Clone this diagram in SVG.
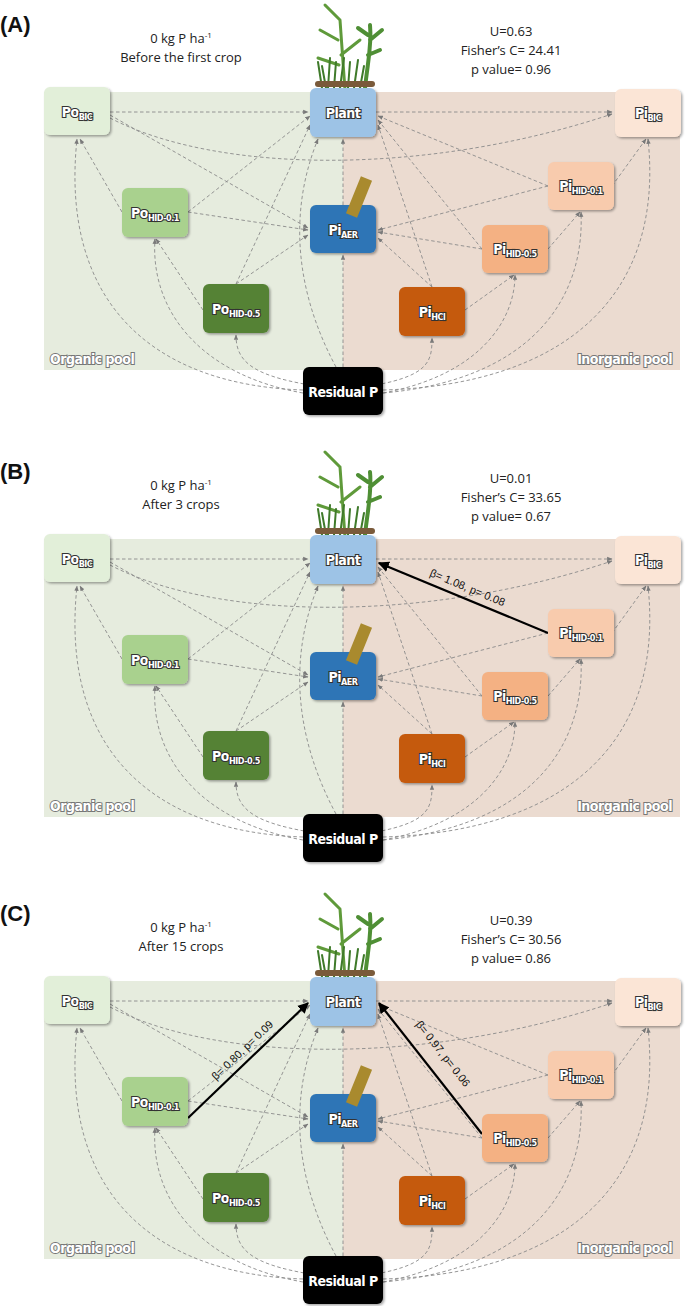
<svg xmlns="http://www.w3.org/2000/svg" xmlns:xlink="http://www.w3.org/1999/xlink" width="685" height="1306" viewBox="0 0 685 1306">
<style>
.t{font-family:"Open Sans","Liberation Sans",sans-serif;font-size:13px;fill:#222;text-anchor:middle}
.pl{font-family:"Liberation Sans",Arial,sans-serif;font-size:22px;font-weight:bold;fill:#111}
.n{font-family:"DejaVu Sans Condensed","Liberation Sans",sans-serif;font-weight:bold;font-size:14px;fill:#fff;stroke:#333;stroke-width:2.2px;paint-order:stroke;text-anchor:middle;letter-spacing:-0.5px}
.s{font-size:9px}
.pool{font-family:"DejaVu Sans Condensed","Liberation Sans",sans-serif;font-weight:bold;font-size:14px;fill:#fff;stroke:#777;stroke-width:2px;paint-order:stroke;letter-spacing:-0.5px}
.e path{fill:none;stroke:#8a8a8a;stroke-width:0.9;stroke-dasharray:3.5 2.5;marker-end:url(#ag)}
.sol{fill:none;stroke:#000;stroke-width:2.2;marker-end:url(#ab)}
.bl{font-family:"Liberation Sans",Arial,sans-serif;font-size:11px;fill:#111;text-anchor:middle}
.box{stroke:none;filter:url(#sh)}
</style>
<defs>
<marker id="ag" viewBox="0 0 10 10" refX="9" refY="5" markerWidth="6" markerHeight="6" orient="auto"><path d="M0,1 L10,5 L0,9 z" fill="#7a7a7a"/></marker>
<marker id="ab" viewBox="0 0 10 10" refX="9" refY="5" markerWidth="5" markerHeight="5" orient="auto"><path d="M0,0 L10,5 L0,10 z" fill="#000"/></marker>
<filter id="sh" x="-10%" y="-10%" width="130%" height="130%"><feDropShadow dx="1.5" dy="1.5" stdDeviation="1.2" flood-opacity="0.35"/></filter>
<g id="bg">
<rect x="44" y="92" width="299" height="278" fill="#e6ecde"/>
<rect x="343" y="92" width="337" height="278" fill="#ebdbd0"/>
<g stroke-linecap="round">
<path d="M345,90 L340,20 M340,20 L325,5 M338,40 L320,30 M341,55 L360,40 M339,65 L318,58" stroke="#5f9a3a" stroke-width="3" fill="none"/>
<path d="M365,88 C368,60 372,45 370,25 M370,40 L382,30 M368,55 L380,50 M368,35 L358,28" stroke="#4f8f35" stroke-width="4" fill="none"/>
<path d="M322,88 L318,62 M328,88 L330,58 M334,88 L336,62 M340,88 L344,58 M348,88 L350,62 M354,88 L358,60 M326,88 L322,66 M360,88 L364,66" stroke="#3f7a2a" stroke-width="2" fill="none"/>
<path d="M318,84 L372,84" stroke="#7a5a3a" stroke-width="6"/>
</g>
</g>
<g id="edges" class="e">
<path d="M303,390 C150,385 60,300 77,139"/>
<path d="M303,393 C200,375 150,310 155,239"/>
<path d="M310,385 C250,375 236,360 236,335"/>
<path d="M343,367 L343,255"/>
<path d="M336,367 C300,300 285,220 318,139"/>
<path d="M376,385 C430,375 432,360 432,338"/>
<path d="M383,393 C480,375 515,320 515,275"/>
<path d="M383,393 C530,380 585,300 581,212"/>
<path d="M383,390 C560,385 665,300 648,139"/>
<path d="M110,112 L308,112"/>
<path d="M110,115 L308,228"/>
<path d="M110,118 C220,175 430,175 612,114"/>
<path d="M122,212 L80,139"/>
<path d="M188,212 L310,116"/>
<path d="M188,212 L308,230"/>
<path d="M203,310 L156,239"/>
<path d="M236,284 L310,125"/>
<path d="M236,284 L308,235"/>
<path d="M376,112 L612,112"/>
<path d="M548,186 L378,116"/>
<path d="M548,186 L378,230"/>
<path d="M612,186 L646,139"/>
<path d="M482,249 L378,232"/>
<path d="M482,249 L378,120"/>
<path d="M548,249 L580,212"/>
<path d="M432,287 L378,125"/>
<path d="M432,287 L378,238"/>
<path d="M465,310 L514,275"/>
<path d="M343,205 L343,139"/>
</g>
<g id="ptree">
<rect x="316" y="211" width="0" height="0"/>
</g>
</defs>

<!-- Panel A -->
<g id="panelA">
<use xlink:href="#bg"/>
<text x="0" y="32" class="pl">(A)</text>
<text class="t" x="181" y="43">0 kg P ha<tspan dy="-5" font-size="8">-1</tspan></text>
<text class="t" x="181" y="62">Before the first crop</text>
<text class="t" x="511" y="36">U=0.63</text>
<text class="t" x="511" y="55">Fisher’s C= 24.41</text>
<text class="t" x="511" y="74">p value= 0.96</text>
<g id="connA"><use xlink:href="#edges"/></g>
<g id="A_PoBIC"><rect class="box" x="44" y="87" width="66" height="48" rx="6" fill="#e2efd9"/><text class="n" x="77" y="117">Po<tspan class="s" dy="3">BIC</tspan></text></g>
<g id="A_Plant"><rect class="box" x="310" y="88" width="66" height="49" rx="6" fill="#9dc3e6"/><text class="n" x="343" y="118">Plant</text></g>
<g id="A_PiBIC"><rect class="box" x="615" y="89" width="66" height="48" rx="6" fill="#fbe5d6"/><text class="n" x="648" y="118">Pi<tspan class="s" dy="3">BIC</tspan></text></g>
<g id="A_PoH01"><rect class="box" x="122" y="188" width="66" height="49" rx="6" fill="#a9d18e"/><text class="n" x="155" y="218">Po<tspan class="s" dy="3">HID-0.1</tspan></text></g>
<g id="A_PiAER"><rect class="box" x="310" y="205" width="66" height="48" rx="6" fill="#2e75b6"/><rect x="353" y="177" width="12" height="40" fill="#a98a2e" transform="rotate(22 359 197)"/><text class="n" x="343" y="235">Pi<tspan class="s" dy="3">AER</tspan></text></g>
<g id="A_PiH01"><rect class="box" x="548" y="162" width="66" height="48" rx="6" fill="#f8cbad"/><text class="n" x="581" y="191">Pi<tspan class="s" dy="3">HID-0.1</tspan></text></g>
<g id="A_PiH05"><rect class="box" x="482" y="225" width="66" height="48" rx="6" fill="#f4b183"/><text class="n" x="515" y="254">Pi<tspan class="s" dy="3">HID-0.5</tspan></text></g>
<g id="A_PoH05"><rect class="box" x="203" y="284" width="66" height="49" rx="6" fill="#548235"/><text class="n" x="236" y="314">Po<tspan class="s" dy="3">HID-0.5</tspan></text></g>
<g id="A_PiHCl"><rect class="box" x="399" y="287" width="66" height="49" rx="6" fill="#c55a11"/><text class="n" x="432" y="317">Pi<tspan class="s" dy="3">HCl</tspan></text></g>
<text class="pool" x="50" y="364">Organic pool</text>
<text class="pool" x="672" y="364" text-anchor="end">Inorganic pool</text>
<g id="A_Res"><rect class="box" x="303" y="367" width="80" height="48" rx="6" fill="#000"/><text class="n" x="343" y="397" style="stroke:none">Residual P</text></g>
</g>

<!-- Panel B -->
<g id="panelB" transform="translate(0,447)">
<use xlink:href="#bg"/>
<text x="0" y="32" class="pl">(B)</text>
<text class="t" x="181" y="43">0 kg P ha<tspan dy="-5" font-size="8">-1</tspan></text>
<text class="t" x="181" y="62">After 3 crops</text>
<text class="t" x="511" y="36">U=0.01</text>
<text class="t" x="511" y="55">Fisher’s C= 33.65</text>
<text class="t" x="511" y="74">p value= 0.67</text>
<g id="connB"><use xlink:href="#edges"/>
<path class="sol" d="M548,186 L379,116"/>
<text class="bl" transform="translate(466,144) rotate(22.5)">β= 1.08, p= 0.08</text></g>
<g id="B_PoBIC"><rect class="box" x="44" y="87" width="66" height="48" rx="6" fill="#e2efd9"/><text class="n" x="77" y="117">Po<tspan class="s" dy="3">BIC</tspan></text></g>
<g id="B_Plant"><rect class="box" x="310" y="88" width="66" height="49" rx="6" fill="#9dc3e6"/><text class="n" x="343" y="118">Plant</text></g>
<g id="B_PiBIC"><rect class="box" x="615" y="89" width="66" height="48" rx="6" fill="#fbe5d6"/><text class="n" x="648" y="118">Pi<tspan class="s" dy="3">BIC</tspan></text></g>
<g id="B_PoH01"><rect class="box" x="122" y="188" width="66" height="49" rx="6" fill="#a9d18e"/><text class="n" x="155" y="218">Po<tspan class="s" dy="3">HID-0.1</tspan></text></g>
<g id="B_PiAER"><rect class="box" x="310" y="205" width="66" height="48" rx="6" fill="#2e75b6"/><rect x="353" y="177" width="12" height="40" fill="#a98a2e" transform="rotate(22 359 197)"/><text class="n" x="343" y="235">Pi<tspan class="s" dy="3">AER</tspan></text></g>
<g id="B_PiH01"><rect class="box" x="548" y="162" width="66" height="48" rx="6" fill="#f8cbad"/><text class="n" x="581" y="191">Pi<tspan class="s" dy="3">HID-0.1</tspan></text></g>
<g id="B_PiH05"><rect class="box" x="482" y="225" width="66" height="48" rx="6" fill="#f4b183"/><text class="n" x="515" y="254">Pi<tspan class="s" dy="3">HID-0.5</tspan></text></g>
<g id="B_PoH05"><rect class="box" x="203" y="284" width="66" height="49" rx="6" fill="#548235"/><text class="n" x="236" y="314">Po<tspan class="s" dy="3">HID-0.5</tspan></text></g>
<g id="B_PiHCl"><rect class="box" x="399" y="287" width="66" height="49" rx="6" fill="#c55a11"/><text class="n" x="432" y="317">Pi<tspan class="s" dy="3">HCl</tspan></text></g>
<text class="pool" x="50" y="364">Organic pool</text>
<text class="pool" x="672" y="364" text-anchor="end">Inorganic pool</text>
<g id="B_Res"><rect class="box" x="303" y="367" width="80" height="48" rx="6" fill="#000"/><text class="n" x="343" y="397" style="stroke:none">Residual P</text></g>
</g>

<!-- Panel C -->
<g id="panelC" transform="translate(0,889)">
<use xlink:href="#bg"/>
<text x="0" y="32" class="pl">(C)</text>
<text class="t" x="181" y="43">0 kg P ha<tspan dy="-5" font-size="8">-1</tspan></text>
<text class="t" x="181" y="62">After 15 crops</text>
<text class="t" x="511" y="36">U=0.39</text>
<text class="t" x="511" y="55">Fisher’s C= 30.56</text>
<text class="t" x="511" y="74">p value= 0.86</text>
<g id="connC"><use xlink:href="#edges"/>
<path class="sol" d="M188,229 L308,114"/>
<path class="sol" d="M482,245 L379,114"/>
<text class="bl" transform="translate(245,164) rotate(-43.8)">β= 0.80, p= 0.09</text>
<text class="bl" transform="translate(440,167) rotate(51.8)">β= 0.97, p= 0.06</text></g>
<g id="C_PoBIC"><rect class="box" x="44" y="87" width="66" height="48" rx="6" fill="#e2efd9"/><text class="n" x="77" y="117">Po<tspan class="s" dy="3">BIC</tspan></text></g>
<g id="C_Plant"><rect class="box" x="310" y="88" width="66" height="49" rx="6" fill="#9dc3e6"/><text class="n" x="343" y="118">Plant</text></g>
<g id="C_PiBIC"><rect class="box" x="615" y="89" width="66" height="48" rx="6" fill="#fbe5d6"/><text class="n" x="648" y="118">Pi<tspan class="s" dy="3">BIC</tspan></text></g>
<g id="C_PoH01"><rect class="box" x="122" y="188" width="66" height="49" rx="6" fill="#a9d18e"/><text class="n" x="155" y="218">Po<tspan class="s" dy="3">HID-0.1</tspan></text></g>
<g id="C_PiAER"><rect class="box" x="310" y="205" width="66" height="48" rx="6" fill="#2e75b6"/><rect x="353" y="177" width="12" height="40" fill="#a98a2e" transform="rotate(22 359 197)"/><text class="n" x="343" y="235">Pi<tspan class="s" dy="3">AER</tspan></text></g>
<g id="C_PiH01"><rect class="box" x="548" y="162" width="66" height="48" rx="6" fill="#f8cbad"/><text class="n" x="581" y="191">Pi<tspan class="s" dy="3">HID-0.1</tspan></text></g>
<g id="C_PiH05"><rect class="box" x="482" y="225" width="66" height="48" rx="6" fill="#f4b183"/><text class="n" x="515" y="254">Pi<tspan class="s" dy="3">HID-0.5</tspan></text></g>
<g id="C_PoH05"><rect class="box" x="203" y="284" width="66" height="49" rx="6" fill="#548235"/><text class="n" x="236" y="314">Po<tspan class="s" dy="3">HID-0.5</tspan></text></g>
<g id="C_PiHCl"><rect class="box" x="399" y="287" width="66" height="49" rx="6" fill="#c55a11"/><text class="n" x="432" y="317">Pi<tspan class="s" dy="3">HCl</tspan></text></g>
<text class="pool" x="50" y="364">Organic pool</text>
<text class="pool" x="672" y="364" text-anchor="end">Inorganic pool</text>
<g id="C_Res"><rect class="box" x="303" y="367" width="80" height="48" rx="6" fill="#000"/><text class="n" x="343" y="397" style="stroke:none">Residual P</text></g>
</g>
</svg>
